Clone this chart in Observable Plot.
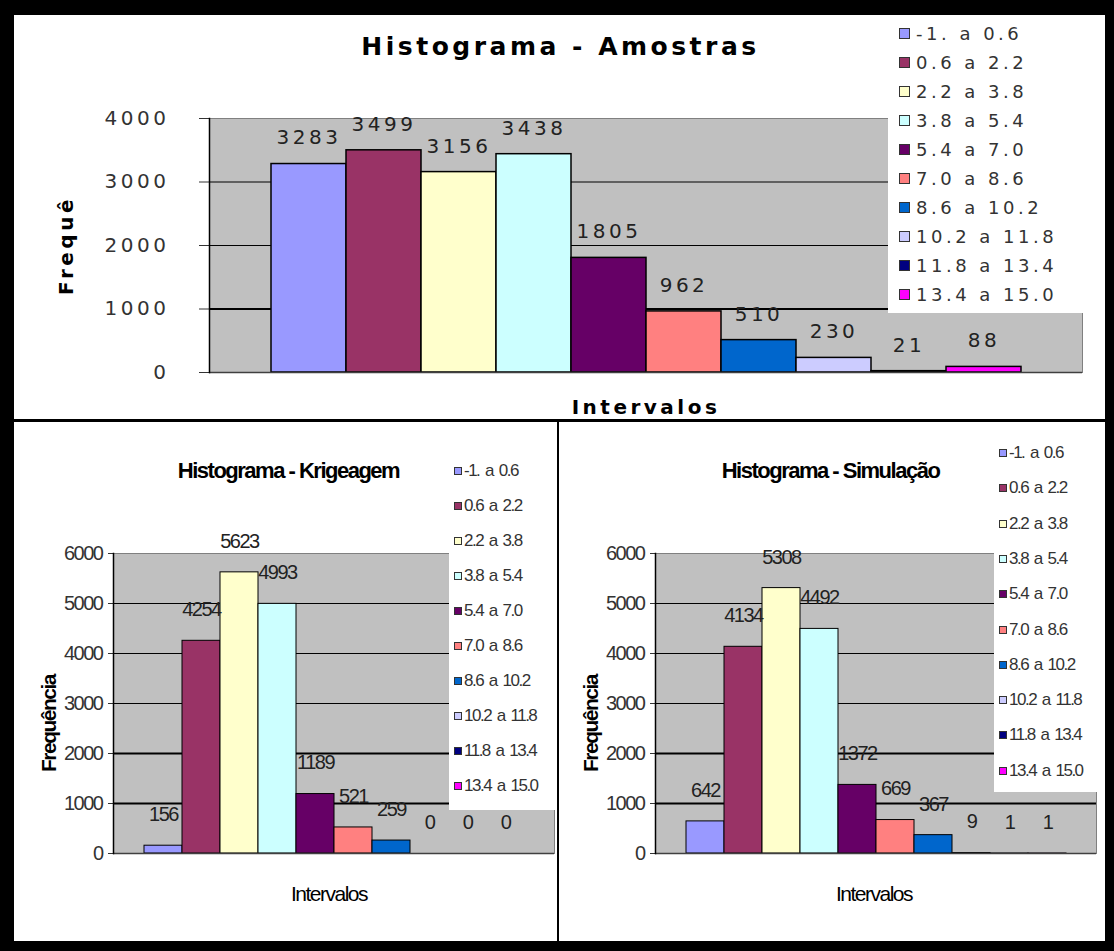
<!DOCTYPE html>
<html>
<head>
<meta charset="utf-8">
<script src="https://cdn.jsdelivr.net/npm/d3@7"></script>
<script src="https://cdn.jsdelivr.net/npm/@observablehq/plot@0.6"></script>
<style>
  body { margin: 0; background: #fff; }
  #root { position: relative; width: 1114px; height: 951px; background: #000; overflow: hidden; }
  .panel { position: absolute; background: #fff; }
  .chart { position: absolute; }
  .chart svg { display: block; }
  .legend { position: absolute; background: #fff; box-sizing: border-box; }
  .legend .row { position: absolute; left: 0; display: flex; align-items: center; white-space: pre; }
  .legend .sw { box-sizing: border-box; border: 1px solid #333; flex: none; }
</style>
</head>
<body>
<div id="root"></div>
<script>
// ---------- data ----------
const intervals = ["-1. a 0.6", "0.6 a 2.2", "2.2 a 3.8", "3.8 a 5.4", "5.4 a 7.0",
                   "7.0 a 8.6", "8.6 a 10.2", "10.2 a 11.8", "11.8 a 13.4", "13.4 a 15.0"];
const amostras  = [3283, 3499, 3156, 3438, 1805, 962, 510, 230, 21, 88];
const krigeagem = [156, 4254, 5623, 4993, 1189, 521, 259, 0, 0, 0];
const simulacao = [642, 4134, 5308, 4492, 1372, 669, 367, 9, 1, 1];
const palette   = ["#9999FF", "#993366", "#FFFFCC", "#CCFFFF", "#660066",
                   "#FF8080", "#0066CC", "#CCCCFF", "#000080", "#FF00FF"];
const ticksAmostras = [0, 1000, 2000, 3000, 4000];
const ticksFreq     = [0, 1000, 2000, 3000, 4000, 5000, 6000];
const titles  = ["Histograma - Amostras", "Histograma - Krigeagem", "Histograma - Simulação"];
const xLabel  = "Intervalos";
const yLabels = ["Frequê", "Frequência"];

// ---------- fonts ----------
function hasFont(name) {
  const ctx = document.createElement("canvas").getContext("2d");
  const s = "0123456789 Histograma Krigeagem";
  ctx.font = "40px monospace";
  const a = ctx.measureText(s).width;
  ctx.font = `40px "${name}", monospace`;
  return ctx.measureText(s).width !== a;
}
const narrowOK = hasFont("Liberation Sans Narrow");
const NARROW = narrowOK ? '"Liberation Sans Narrow", "Arial Narrow", sans-serif'
                        : '"Liberation Sans", Arial, sans-serif';
const NARROW_LS = narrowOK ? "0px" : "-1.5px";
const NARROW_WS = narrowOK ? "0px" : "2.5px";
const WIDE = '"DejaVu Sans", Verdana, sans-serif';

const root = document.getElementById("root");
function box(cls, l, t, w, h) {
  const d = document.createElement("div");
  d.className = cls;
  Object.assign(d.style, {left: l + "px", top: t + "px", width: w + "px", height: h + "px"});
  root.appendChild(d);
  return d;
}

function histogram(cfg) {
  const rows = intervals.map((k, i) => ({k, v: cfg.values[i]}));
  const svg = Plot.plot({
    width: cfg.w, height: cfg.h,
    marginLeft: cfg.ml, marginRight: cfg.mr, marginTop: cfg.mt, marginBottom: cfg.mb,
    style: {fontFamily: cfg.font, fontSize: cfg.fs + "px", color: "#333", background: "white", overflow: "visible"},
    x: {domain: intervals, paddingInner: 0, paddingOuter: 0.75, axis: null},
    y: {domain: [0, d3.max(cfg.ticks)], ticks: cfg.ticks, tickSize: cfg.tickSize,
        tickPadding: cfg.tickPad, tickFormat: d => String(d), label: null},
    color: {domain: intervals, range: palette},
    marks: [
      Plot.frame({fill: "#C0C0C0", stroke: "#808080"}),
      Plot.ruleY(cfg.ticks.slice(1, -1), {stroke: "#000", strokeWidth: d => d <= cfg.thick ? 2 : 1}),
      Plot.barY(rows, {x: "k", y: "v", fill: "k", stroke: "#000", strokeWidth: cfg.barStroke, inset: 0}),
      Plot.ruleY([0], {stroke: "#404040", strokeWidth: 1.5}),
      Plot.frame({anchor: "left", stroke: "#000", strokeWidth: 1.5}),
      Plot.text(rows, {x: "k", y: "v", text: d => String(d.v), dy: cfg.labelDy, fill: "#222",
                       fontSize: cfg.fs, lineAnchor: "middle", ariaLabel: "value-labels"}),
      Plot.text([cfg.title], {frameAnchor: "top", dx: cfg.titleDx, dy: cfg.titleDy, lineAnchor: "middle",
                              fontWeight: "bold", fontSize: cfg.titleFs, fill: "#000", ariaLabel: "chart-title"}),
      Plot.text([xLabel], {frameAnchor: "bottom", dx: cfg.xlDx, dy: cfg.xlDy, lineAnchor: "middle",
                           fontWeight: cfg.xlWeight, fontSize: cfg.xlFs, fill: "#000", ariaLabel: "x-label"}),
      Plot.text([cfg.ylabel], {frameAnchor: "left", rotate: -90, textAnchor: "middle", lineAnchor: "middle",
                               dx: cfg.ylDx, dy: cfg.ylDy, fontWeight: "bold", fontSize: cfg.ylFs,
                               fill: "#000", ariaLabel: "y-label"})
    ]
  });
  svg.style.letterSpacing = cfg.ls;
  const s = d3.select(svg);
  s.select('g[aria-label="chart-title"]').style("letter-spacing", cfg.titleLs).style("word-spacing", cfg.ws || "0px");
  s.select('g[aria-label="x-label"]').style("letter-spacing", cfg.xlLs);
  s.select('g[aria-label="y-label"]').style("letter-spacing", cfg.ylLs);
  const holder = box("chart", cfg.left, cfg.top, cfg.w, cfg.h);
  holder.appendChild(svg);
}

function legend(cfg) {
  const lg = box("legend", cfg.left, cfg.top, cfg.w, cfg.h);
  lg.style.fontFamily = cfg.font;
  lg.style.fontSize = cfg.fs + "px";
  lg.style.letterSpacing = cfg.ls;
  lg.style.wordSpacing = cfg.ws;
  lg.style.color = "#333";
  intervals.forEach((name, i) => {
    const r = document.createElement("div");
    r.className = "row";
    r.style.top = (cfg.pad + i * cfg.step) + "px";
    r.style.height = cfg.step + "px";
    r.style.paddingLeft = cfg.swLeft + "px";
    const sw = document.createElement("div");
    sw.className = "sw";
    sw.style.width = cfg.sw + "px";
    sw.style.height = cfg.sw + "px";
    sw.style.background = palette[i];
    sw.style.marginRight = cfg.gap + "px";
    const t = document.createElement("span");
    t.textContent = name;
    r.appendChild(sw);
    r.appendChild(t);
    lg.appendChild(r);
  });
}

// ---------- panels ----------
box("panel", 14, 15, 1091, 404);
box("panel", 14, 422, 543, 519);
box("panel", 559, 422, 546, 519);

// ---------- charts ----------
histogram({
  values: amostras, ticks: ticksAmostras, title: titles[0], ylabel: yLabels[0],
  left: 14, top: 15, w: 1091, h: 404, ml: 195, mr: 23, mt: 103, mb: 47,
  font: WIDE, fs: 20, ls: "3.5px", tickSize: 10, tickPad: 30, labelDy: -26, thick: 1000, barStroke: 1.5,
  titleDx: -85.5, titleDy: -72, titleFs: 25, titleLs: "4px",
  xlDx: 0, xlDy: 35, xlWeight: "bold", xlFs: 20, xlLs: "4.5px",
  ylDx: -143, ylDy: 0, ylFs: 20, ylLs: "7px"
});
histogram({
  values: krigeagem, ticks: ticksFreq, title: titles[1], ylabel: yLabels[1],
  left: 14, top: 422, w: 543, h: 519, ml: 99, mr: 3, mt: 131, mb: 88,
  font: NARROW, fs: 20, ls: NARROW_LS, ws: NARROW_WS, tickSize: 5, tickPad: 6, labelDy: -31, thick: 2000, barStroke: 1,
  titleDx: -45.5, titleDy: -83, titleFs: 22, titleLs: NARROW_LS,
  xlDx: -5, xlDy: 41, xlWeight: "normal", xlFs: 21, xlLs: NARROW_LS,
  ylDx: -64, ylDy: 20, ylFs: 21, ylLs: NARROW_LS
});
histogram({
  values: simulacao, ticks: ticksFreq, title: titles[2], ylabel: yLabels[1],
  left: 559, top: 422, w: 546, h: 519, ml: 96, mr: 9, mt: 131, mb: 88,
  font: NARROW, fs: 20, ls: NARROW_LS, ws: NARROW_WS, tickSize: 5, tickPad: 6, labelDy: -31, thick: 2000, barStroke: 1,
  titleDx: -45.5, titleDy: -83, titleFs: 22, titleLs: NARROW_LS,
  xlDx: -2, xlDy: 41, xlWeight: "normal", xlFs: 21, xlLs: NARROW_LS,
  ylDx: -64, ylDy: 20, ylFs: 21, ylLs: NARROW_LS
});

// ---------- legends ----------
legend({left: 888, top: 15, w: 217, h: 298, pad: 3.5, step: 29, swLeft: 11, sw: 11, gap: 6,
        font: WIDE, fs: 18, ls: "3.5px", ws: "0px"});
legend({left: 449, top: 422, w: 108, h: 388, pad: 31, step: 35.1, swLeft: 5, sw: 8, gap: 2,
        font: NARROW, fs: 17, ls: NARROW_LS, ws: NARROW_WS});
legend({left: 994, top: 422, w: 111, h: 370, pad: 13.4, step: 35.3, swLeft: 5, sw: 8, gap: 2,
        font: NARROW, fs: 17, ls: NARROW_LS, ws: NARROW_WS});
</script>
</body>
</html>
